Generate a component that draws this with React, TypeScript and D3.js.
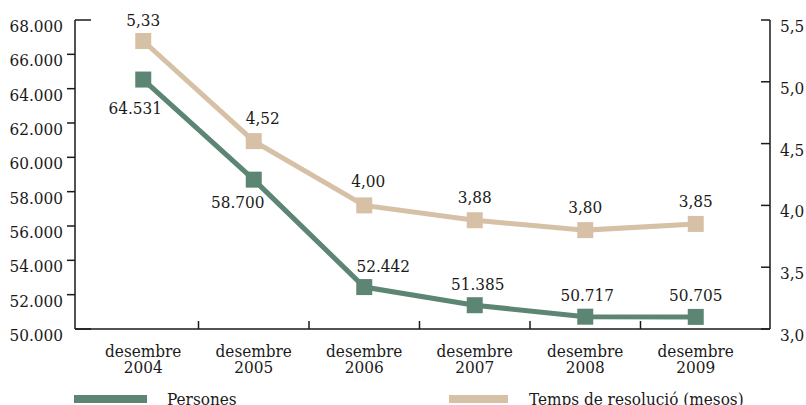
import React from "react";
import * as d3 from "d3";

const categories = ["2004", "2005", "2006", "2007", "2008", "2009"];
const persones = [64531, 58700, 52442, 51385, 50717, 50705];
const temps = [5.33, 4.52, 4.0, 3.88, 3.8, 3.85];
const leftTicks = [50000, 52000, 54000, 56000, 58000, 60000, 62000, 64000, 66000, 68000];
const rightTicks = [3.0, 3.5, 4.0, 4.5, 5.0, 5.5];

const W = 806;
const H = 405;
const GREEN = "#5c8573";
const TAN = "#d6c1a7";
const INK = "#1a1a1a";
const FONT = "'DejaVu Serif Condensed', 'DejaVu Serif', serif";
const FS = 17;

// label offsets relative to each point (dx, baseline dy)
const greenLabelOff: [number, number][] = [[-8, 34], [-16, 28], [19, -15], [3, -15], [2, -16], [0, -16]];
const tanLabelOff: [number, number][] = [[0, -15], [9, -17], [4, -18], [0, -17], [0, -17], [0, -17]];

const fmtThousands = (v: number) => d3.format(",")(v).replace(/,/g, ".");
const fmtDec2 = (v: number) => v.toFixed(2).replace(".", ",");
const fmtDec1 = (v: number) => v.toFixed(1).replace(".", ",");

export default function App() {
  const x = d3.scaleBand<string>().domain(categories).range([88, 751]);
  const yL = d3.scaleLinear().domain([50000, 68000]).range([329, 20]);
  const yR = d3.scaleLinear().domain([3, 5.5]).range([329, 20]);
  const cx = (c: string) => (x(c) as number) + x.bandwidth() / 2;

  const lineL = d3
    .line<number>()
    .x((_, i) => cx(categories[i]))
    .y((d) => yL(d));
  const lineR = d3
    .line<number>()
    .x((_, i) => cx(categories[i]))
    .y((d) => yR(d));

  const axL = 75;
  const axR = 770;
  const sq = 16;

  return (
    <svg
      width={W}
      height={H}
      style={{ position: "absolute", left: 0, top: 0, fontStretch: "condensed" }}
      fontFamily={FONT}
      fontSize={FS}
    >
      <rect width={W} height={H} fill="#fff" />
      {/* axes */}
      <line x1={axL} x2={axL} y1={yL(68000)} y2={yL(50000)} stroke={INK} strokeWidth={1.5} />
      <line x1={axR} x2={axR} y1={yR(5.5)} y2={yR(3)} stroke={INK} strokeWidth={1.5} />
      <line x1={axL} x2={axR} y1={yL(50000)} y2={yL(50000)} stroke={INK} strokeWidth={1.5} />
      {leftTicks.map((t, i) => {
        const y = yL(t);
        const end = i === 0 || i === leftTicks.length - 1;
        return (
          <g key={t}>
            <line x1={end ? axL : axL - 8} x2={end ? axL + 16 : axL} y1={y} y2={y} stroke={INK} strokeWidth={1.5} />
            <text x={63} y={y + 12} textAnchor="end" fill={INK}>
              {fmtThousands(t)}
            </text>
          </g>
        );
      })}
      {rightTicks.map((t) => {
        const y = yR(t);
        return (
          <g key={t}>
            <line x1={axR - 9} x2={axR} y1={y} y2={y} stroke={INK} strokeWidth={1.5} />
            <text x={780} y={y + 12} textAnchor="start" fill={INK}>
              {fmtDec1(t)}
            </text>
          </g>
        );
      })}
      {categories.slice(1).map((c) => {
        const xb = x(c) as number;
        return <line key={c} x1={xb} x2={xb} y1={329} y2={321} stroke={INK} strokeWidth={1.5} />;
      })}
      {categories.map((c) => (
        <text key={c} x={cx(c)} textAnchor="middle" fill={INK}>
          <tspan x={cx(c)} y={357}>desembre</tspan>
          <tspan x={cx(c)} y={373}>{c}</tspan>
        </text>
      ))}
      {/* series */}
      <path d={lineR(temps) ?? ""} fill="none" stroke={TAN} strokeWidth={5} />
      <path d={lineL(persones) ?? ""} fill="none" stroke={GREEN} strokeWidth={5} />
      {temps.map((v, i) => (
        <rect key={"t" + i} x={cx(categories[i]) - sq / 2} y={yR(v) - sq / 2} width={sq} height={sq} fill={TAN} />
      ))}
      {persones.map((v, i) => (
        <rect key={"p" + i} x={cx(categories[i]) - sq / 2} y={yL(v) - sq / 2} width={sq} height={sq} fill={GREEN} />
      ))}
      {temps.map((v, i) => (
        <text key={"tl" + i} x={cx(categories[i]) + tanLabelOff[i][0]} y={yR(v) + tanLabelOff[i][1]} textAnchor="middle" fill={INK}>
          {fmtDec2(v)}
        </text>
      ))}
      {persones.map((v, i) => (
        <text key={"pl" + i} x={cx(categories[i]) + greenLabelOff[i][0]} y={yL(v) + greenLabelOff[i][1]} textAnchor="middle" fill={INK}>
          {fmtThousands(v)}
        </text>
      ))}
      {/* legend */}
      <rect x={74} y={395} width={73} height={8} fill={GREEN} />
      <text x={167} y={405} fill={INK}>Persones</text>
      <rect x={449} y={395} width={59} height={8} fill={TAN} />
      <text x={529} y={405} fill={INK}>Temps de resolució (mesos)</text>
    </svg>
  );
}
